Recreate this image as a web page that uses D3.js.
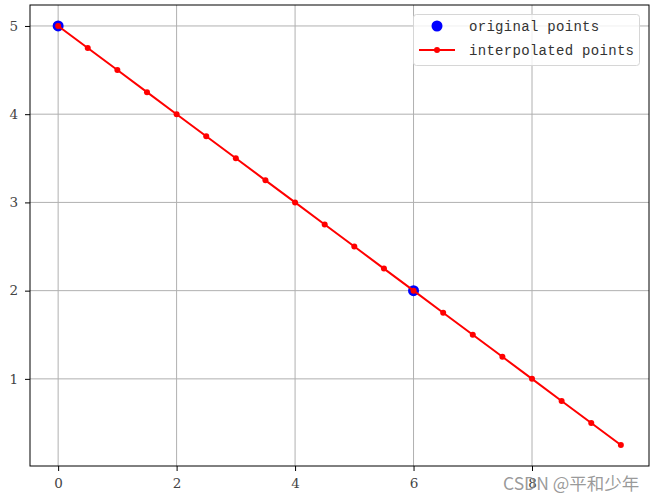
<!DOCTYPE html>
<html>
<head>
<meta charset="utf-8">
<script src="https://cdn.jsdelivr.net/npm/d3@7"></script>
<style>
  body { margin: 0; background: #fff; }
</style>
</head>
<body>
<svg width="655" height="500"></svg>
<script>
// data
const origX = [0, 6];
const origY = [5, 2];
const interpX = [0, 0.5, 1, 1.5, 2, 2.5, 3, 3.5, 4, 4.5, 5, 5.5, 6, 6.5, 7, 7.5, 8, 8.5, 9, 9.5];
const interpY = [5, 4.75, 4.5, 4.25, 4, 3.75, 3.5, 3.25, 3, 2.75, 2.5, 2.25, 2, 1.75, 1.5, 1.25, 1, 0.75, 0.5, 0.25];
const xTicks = [0, 2, 4, 6, 8];
const yTicks = [1, 2, 3, 4, 5];

const svg = d3.select("svg");
const margin = { left: 30, right: 6, top: 5, bottom: 34 };
const width = 655, height = 500;
const plotW = width - margin.left - margin.right,
      plotH = height - margin.top - margin.bottom;

const x = d3.scaleLinear().domain([-0.475, 9.975]).range([margin.left, margin.left + plotW]);
const y = d3.scaleLinear().domain([0.0125, 5.2375]).range([margin.top + plotH, margin.top]);

// grid
const grid = svg.append("g");
grid.selectAll(".gx").data(xTicks).enter().append("line")
    .attr("x1", d => x(d)).attr("x2", d => x(d))
    .attr("y1", margin.top).attr("y2", margin.top + plotH)
    .attr("stroke", "#b0b0b0").attr("stroke-width", 1);
grid.selectAll(".gy").data(yTicks).enter().append("line")
    .attr("y1", d => y(d)).attr("y2", d => y(d))
    .attr("x1", margin.left).attr("x2", margin.left + plotW)
    .attr("stroke", "#b0b0b0").attr("stroke-width", 1);

// axes
const xAxis = svg.append("g")
    .attr("transform", `translate(0,${margin.top + plotH})`)
    .call(d3.axisBottom(x).tickValues(xTicks).tickSize(5).tickPadding(7).tickFormat(d3.format("d")));
const yAxis = svg.append("g")
    .attr("transform", `translate(${margin.left},0)`)
    .call(d3.axisLeft(y).tickValues(yTicks).tickSize(5).tickPadding(7).tickFormat(d3.format("d")));
[xAxis, yAxis].forEach(a => {
    a.select(".domain").remove();
    a.selectAll(".tick line").attr("stroke", "#000").attr("stroke-width", 1);
    a.selectAll(".tick text")
        .style("font-family", "DejaVu Serif, serif")
        .style("font-size", "13.5px")
        .attr("fill", "#444");
});

// original points
svg.append("g").selectAll("circle").data(origX).enter().append("circle")
    .attr("cx", d => x(d))
    .attr("cy", (d, i) => y(origY[i]))
    .attr("r", 5.5)
    .attr("fill", "#0000ff");

// interpolated line
const line = d3.line().x(d => x(d)).y((d, i) => y(interpY[i]));
svg.append("path")
    .datum(interpX)
    .attr("d", line)
    .attr("fill", "none")
    .attr("stroke", "#ff0000")
    .attr("stroke-width", 2);
svg.append("g").selectAll("circle").data(interpX).enter().append("circle")
    .attr("cx", d => x(d))
    .attr("cy", (d, i) => y(interpY[i]))
    .attr("r", 3)
    .attr("fill", "#ff0000");

// frame
svg.append("rect")
    .attr("x", margin.left).attr("y", margin.top)
    .attr("width", plotW).attr("height", plotH)
    .attr("fill", "none").attr("stroke", "#000").attr("stroke-width", 1);

// legend
const legend = svg.append("g");
legend.append("rect")
    .attr("x", 413.5).attr("y", 14.5)
    .attr("width", 226).attr("height", 51)
    .attr("rx", 3)
    .attr("fill", "#fff").attr("fill-opacity", 0.8)
    .attr("stroke", "#d6d6d6");
legend.append("circle")
    .attr("cx", 437).attr("cy", 26).attr("r", 5.5).attr("fill", "#0000ff");
legend.append("line")
    .attr("x1", 419).attr("x2", 455).attr("y1", 50).attr("y2", 50)
    .attr("stroke", "#ff0000").attr("stroke-width", 2);
legend.append("circle")
    .attr("cx", 437).attr("cy", 50).attr("r", 3).attr("fill", "#ff0000");
const legendText = ["original points", "interpolated points"];
legend.selectAll("text").data(legendText).enter().append("text")
    .attr("x", 469)
    .attr("y", (d, i) => 31 + i * 24)
    .style("font-family", "Liberation Mono, monospace")
    .style("font-size", "14px")
    .style("letter-spacing", "0.3px")
    .attr("fill", "#333")
    .text(d => d);

// watermark
svg.append("text")
    .attr("x", 503).attr("y", 490)
    .style("font-family", "Noto Sans CJK SC, sans-serif")
    .style("font-size", "17.5px")
    .attr("fill", "#888")
    .attr("fill-opacity", 0.85)
    .text("CSDN @平和少年");
</script>
</body>
</html>
